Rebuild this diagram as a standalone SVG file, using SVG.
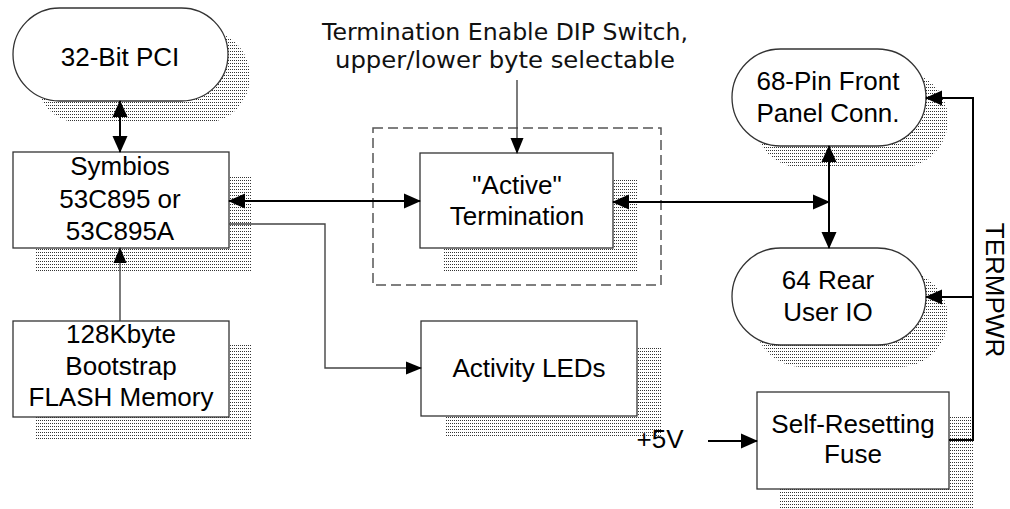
<svg xmlns="http://www.w3.org/2000/svg" width="1010" height="509" viewBox="0 0 1010 509">
<defs>
<pattern id="dots" width="2" height="3" patternUnits="userSpaceOnUse"><rect width="1" height="1" fill="#333"/></pattern>
<marker id="ah" markerUnits="userSpaceOnUse" markerWidth="17" markerHeight="16" viewBox="0 0 17 16" refX="16" refY="8" orient="auto-start-reverse"><path d="M0,0.5 L17,8 L0,15.5 Z" fill="#000"/></marker>
<marker id="ahs" markerUnits="userSpaceOnUse" markerWidth="16" markerHeight="14" viewBox="0 0 16 14" refX="15" refY="7" orient="auto-start-reverse"><path d="M0,0.5 L16,7 L0,13.5 Z" fill="#000"/></marker>
</defs>
<style>
.sh{fill:url(#dots);stroke:none}
.box{fill:#fff;stroke:#333;stroke-width:1.3}
.t{font-family:"Liberation Sans",Arial,sans-serif;font-size:26px;fill:#000;text-anchor:middle}
.n{font-family:"DejaVu Sans","Noto Sans",sans-serif;font-size:23px;fill:#111;text-anchor:middle}
.thick{fill:none;stroke:#000;stroke-width:2}
.thin{fill:none;stroke:#444;stroke-width:1.4}
.dash{fill:none;stroke:#555;stroke-width:1.5;stroke-dasharray:10 5}
</style>
<rect width="1010" height="509" fill="#fff"/>

<g id="dip-label">
<text class="n" x="505" y="40" textLength="366" lengthAdjust="spacingAndGlyphs">Termination Enable DIP Switch,</text>
<text class="n" x="505" y="68" textLength="340" lengthAdjust="spacingAndGlyphs">upper/lower byte selectable</text>
</g>

<g id="term-enclosure">
<rect class="dash" x="373" y="128" width="288" height="157"/>
</g>

<g id="pci">
<rect class="sh" x="35" y="30" width="215" height="93" rx="46.5"/>
<rect class="box" x="13" y="8" width="215" height="93" rx="46.5" stroke="#000" stroke-width="1"/>
<text class="t" x="120" y="66">32-Bit PCI</text>
</g>

<g id="symbios">
<rect class="sh" x="35" y="176" width="216" height="96"/>
<rect class="box" x="13" y="152" width="216" height="96"/>
<text class="t" x="120" y="175">Symbios</text>
<text class="t" x="120" y="208">53C895 or</text>
<text class="t" x="120" y="240">53C895A</text>
</g>

<g id="flash">
<rect class="sh" x="35" y="345" width="216" height="94"/>
<rect class="box" x="13" y="321" width="216" height="96"/>
<text class="t" x="121" y="343">128Kbyte</text>
<text class="t" x="121" y="375">Bootstrap</text>
<text class="t" x="121" y="406">FLASH Memory</text>
</g>

<g id="active-term">
<rect class="sh" x="443" y="178" width="195" height="94"/>
<rect class="box" x="420" y="153" width="193" height="95"/>
<text class="t" x="517" y="194">"Active"</text>
<text class="t" x="517" y="225">Termination</text>
</g>

<g id="activity-leds">
<rect class="sh" x="445" y="346" width="217" height="92"/>
<rect class="box" x="421" y="321" width="216" height="95"/>
<text class="t" x="529" y="377">Activity LEDs</text>
</g>

<g id="front-panel">
<rect class="sh" x="754" y="71" width="194" height="97" rx="48.5"/>
<rect class="box" x="732" y="49" width="194" height="97" rx="48.5" stroke="#000" stroke-width="1"/>
<text class="t" x="828" y="90">68-Pin Front</text>
<text class="t" x="828" y="122">Panel Conn.</text>
</g>

<g id="rear-io">
<rect class="sh" x="754" y="270" width="194" height="97" rx="48.5"/>
<rect class="box" x="732" y="248" width="194" height="97" rx="48.5" stroke="#000" stroke-width="1"/>
<text class="t" x="828" y="289">64 Rear</text>
<text class="t" x="828" y="321">User IO</text>
</g>

<g id="fuse">
<rect class="sh" x="780" y="416" width="193" height="93"/>
<rect class="box" x="757" y="392" width="192" height="97"/>
<text class="t" x="853" y="433">Self-Resetting</text>
<text class="t" x="853" y="463">Fuse</text>
</g>

<g id="labels">
<text class="t" x="660" y="448">+5V</text>
<text class="t" transform="translate(986,290) rotate(90)">TERMPWR</text>
</g>

<g id="connectors">
<line class="thick" x1="120" y1="101" x2="120" y2="152" marker-start="url(#ah)" marker-end="url(#ah)"/>
<line class="thick" x1="229" y1="201" x2="420" y2="201" marker-start="url(#ah)" marker-end="url(#ah)"/>
<line class="thin" x1="120" y1="321" x2="120" y2="248" marker-end="url(#ahs)"/>
<polyline class="thin" points="229,224 325,224 325,368 421,368" marker-end="url(#ahs)"/>
<line class="thin" x1="517" y1="80" x2="517" y2="153" marker-end="url(#ahs)"/>
<line class="thick" x1="613" y1="202" x2="829" y2="202" marker-start="url(#ah)" marker-end="url(#ah)"/>
<line class="thick" x1="829" y1="146" x2="829" y2="248" marker-start="url(#ah)" marker-end="url(#ah)"/>
<polyline class="thick" points="949,440 973,440 973,98 926,98" marker-end="url(#ah)"/>
<line class="thick" x1="973" y1="297" x2="926" y2="297" marker-end="url(#ah)"/>
<line class="thick" x1="708" y1="441" x2="757" y2="441" marker-end="url(#ah)"/>
</g>
</svg>
